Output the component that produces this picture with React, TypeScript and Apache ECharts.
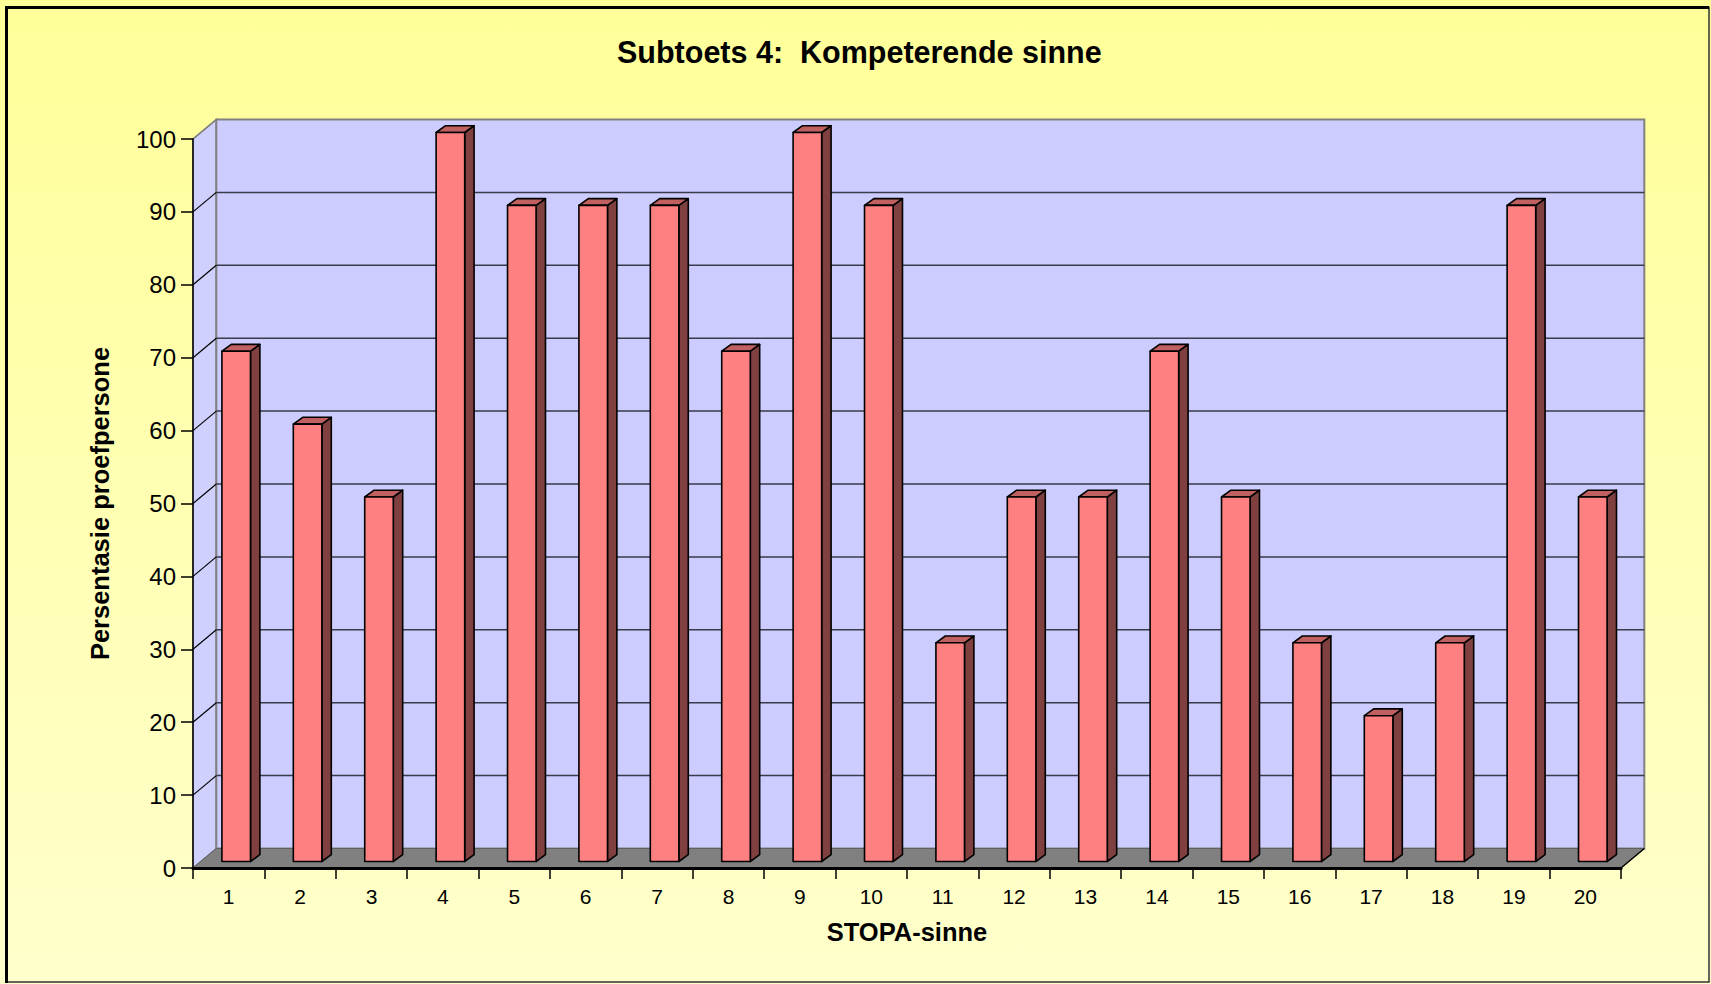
import React, { useEffect, useRef } from "react";
import * as echarts from "echarts";

const titleText = "Subtoets 4:  Kompeterende sinne";
const xTitle = "STOPA-sinne";
const yTitle = "Persentasie proefpersone";
const categories = ["1","2","3","4","5","6","7","8","9","10","11","12","13","14","15","16","17","18","19","20"];
const values = [70, 60, 50, 100, 90, 90, 90, 70, 100, 90, 30, 50, 50, 70, 50, 30, 20, 30, 90, 50];
const yTicks = [0, 10, 20, 30, 40, 50, 60, 70, 80, 90, 100];

// 3D styling constants
const WALL_DX = 23.3;
const WALL_DY = -19.5;
const BAR_SHIFT_X = 7.5;
const BAR_SHIFT_Y = -6.5;
const BAR_DX = 9.4;
const BAR_DY = -6.8;
const BAR_FRAC = 0.4;
const FONT = "Liberation Sans, Arial, sans-serif";

export default function App() {
  const ref = useRef<HTMLDivElement>(null);
  useEffect(() => {
    if (!ref.current) return;
    const chart = echarts.init(ref.current, null, { renderer: "svg" });

    const wallsRender = (params: any, api: any) => {
      const cs = params.coordSys;
      const x0 = cs.x;
      const x1 = cs.x + cs.width;
      const yb = api.coord([0, yTicks[0]])[1];
      const yt = api.coord([0, yTicks[yTicks.length - 1]])[1];
      const children: any[] = [];
      children.push({
        type: "polygon",
        shape: { points: [[x0, yb], [x0 + WALL_DX, yb + WALL_DY], [x0 + WALL_DX, yt + WALL_DY], [x0, yt]] },
        style: { fill: "#D0D0FF", stroke: "#808080", lineWidth: 1.5 },
      });
      children.push({
        type: "rect",
        shape: { x: x0 + WALL_DX, y: yt + WALL_DY, width: x1 - x0, height: yb - yt },
        style: { fill: "#CCCCFF", stroke: "#808080", lineWidth: 2 },
      });
      yTicks.slice(1, -1).forEach((v) => {
        const y = api.coord([0, v])[1];
        children.push({
          type: "line",
          shape: { x1: x0 + WALL_DX, y1: y + WALL_DY, x2: x1 + WALL_DX, y2: y + WALL_DY },
          style: { stroke: "#3A3A4A", lineWidth: 1.5 },
        });
        children.push({
          type: "line",
          shape: { x1: x0, y1: y, x2: x0 + WALL_DX, y2: y + WALL_DY },
          style: { stroke: "#000000", lineWidth: 1.2 },
        });
      });
      children.push({
        type: "line",
        shape: { x1: x0, y1: yt, x2: x0 + WALL_DX, y2: yt + WALL_DY },
        style: { stroke: "#808080", lineWidth: 1.5 },
      });
      children.push({
        type: "polygon",
        shape: { points: [[x0, yb], [x1, yb], [x1 + WALL_DX, yb + WALL_DY], [x0 + WALL_DX, yb + WALL_DY]] },
        style: { fill: "#808080", stroke: "#606060", lineWidth: 1 },
      });
      children.push({
        type: "line",
        shape: { x1: x1, y1: yb, x2: x1 + WALL_DX, y2: yb + WALL_DY },
        style: { stroke: "#000000", lineWidth: 1.5 },
      });
      return { type: "group", children };
    };

    const barRender = (params: any, api: any) => {
      const idx = api.value(0);
      const val = api.value(1);
      const top = api.coord([idx, val]);
      const base = api.coord([idx, 0]);
      const band = api.size([1, 0])[0];
      const w = band * BAR_FRAC;
      const xl = top[0] - w / 2 + BAR_SHIFT_X;
      const xr = xl + w;
      const yt = top[1] + BAR_SHIFT_Y;
      const yb = base[1] + BAR_SHIFT_Y;
      const stroke = { stroke: "#000000", lineWidth: 1.6, lineJoin: "round" };
      return {
        type: "group",
        children: [
          {
            type: "polygon",
            shape: { points: [[xr, yt], [xr + BAR_DX, yt + BAR_DY], [xr + BAR_DX, yb + BAR_DY], [xr, yb]] },
            style: { fill: "#804040", ...stroke },
          },
          {
            type: "polygon",
            shape: { points: [[xl, yt], [xr, yt], [xr + BAR_DX, yt + BAR_DY], [xl + BAR_DX, yt + BAR_DY]] },
            style: { fill: "#C06060", ...stroke },
          },
          {
            type: "rect",
            shape: { x: xl, y: yt, width: w, height: yb - yt },
            style: { fill: "#FF8080", ...stroke },
          },
        ],
      };
    };

    chart.setOption({
      animation: false,
      backgroundColor: {
        type: "linear",
        x: 0, y: 0, x2: 0, y2: 1,
        colorStops: [
          { offset: 0, color: "#FFFF99" },
          { offset: 1, color: "#FFFFCC" },
        ],
      },
      title: {
        text: titleText,
        left: 612,
        top: 31,
        textStyle: { fontFamily: FONT, fontSize: 30.5, fontWeight: "bold", color: "#000" },
      },
      graphic: [
        {
          type: "rect",
          shape: { x: 6.5, y: 7.5, width: 1702.5, height: 974.5 },
          style: { fill: "transparent", stroke: "#333", lineWidth: 1.5 },
          z: 100,
        },
        {
          type: "line",
          shape: { x1: 6.5, y1: 6, x2: 6.5, y2: 983 },
          style: { stroke: "#000", lineWidth: 3 },
          z: 100,
        },
        {
          type: "line",
          shape: { x1: 5, y1: 7.5, x2: 1709, y2: 7.5 },
          style: { stroke: "#000", lineWidth: 3 },
          z: 100,
        },
      ],
      grid: { left: 193, right: 90, top: 139, bottom: 116 },
      xAxis: {
        type: "category",
        data: categories,
        z: 5,
        name: xTitle,
        nameLocation: "middle",
        nameGap: 51,
        nameTextStyle: { fontFamily: FONT, fontSize: 25.5, fontWeight: "bold", color: "#000" },
        axisLine: { lineStyle: { color: "#000", width: 3 } },
        axisTick: { show: true, length: 11, interval: 0, lineStyle: { color: "#000", width: 1.5 } },
        axisLabel: { interval: 0, fontFamily: FONT, fontSize: 21, color: "#000", margin: 18 },
        splitLine: { show: false },
      },
      yAxis: {
        type: "value",
        min: 0,
        max: 100,
        interval: 10,
        z: 5,
        name: yTitle,
        nameLocation: "middle",
        nameRotate: 90,
        nameGap: 80,
        nameTextStyle: { fontFamily: FONT, fontSize: 25.5, fontWeight: "bold", color: "#000" },
        axisLine: { show: true, lineStyle: { color: "#000", width: 1.5 } },
        axisTick: { show: true, length: 12, lineStyle: { color: "#000", width: 1.5 } },
        axisLabel: { fontFamily: FONT, fontSize: 24, color: "#000", margin: 17 },
        splitLine: { show: false },
      },
      series: [
        {
          type: "custom",
          name: "walls",
          z: 1,
          silent: true,
          renderItem: wallsRender,
          data: [[0, 0]],
          encode: { x: 0, y: 1 },
        },
        {
          type: "custom",
          name: "Persentasie",
          z: 3,
          renderItem: barRender,
          data: values.map((v, i) => [i, v]),
          encode: { x: 0, y: 1 },
        },
      ],
    });
    return () => chart.dispose();
  }, []);
  return (
    <div
      ref={ref}
      style={{ position: "absolute", left: 0, top: 0, width: 1711, height: 984 }}
    />
  );
}
